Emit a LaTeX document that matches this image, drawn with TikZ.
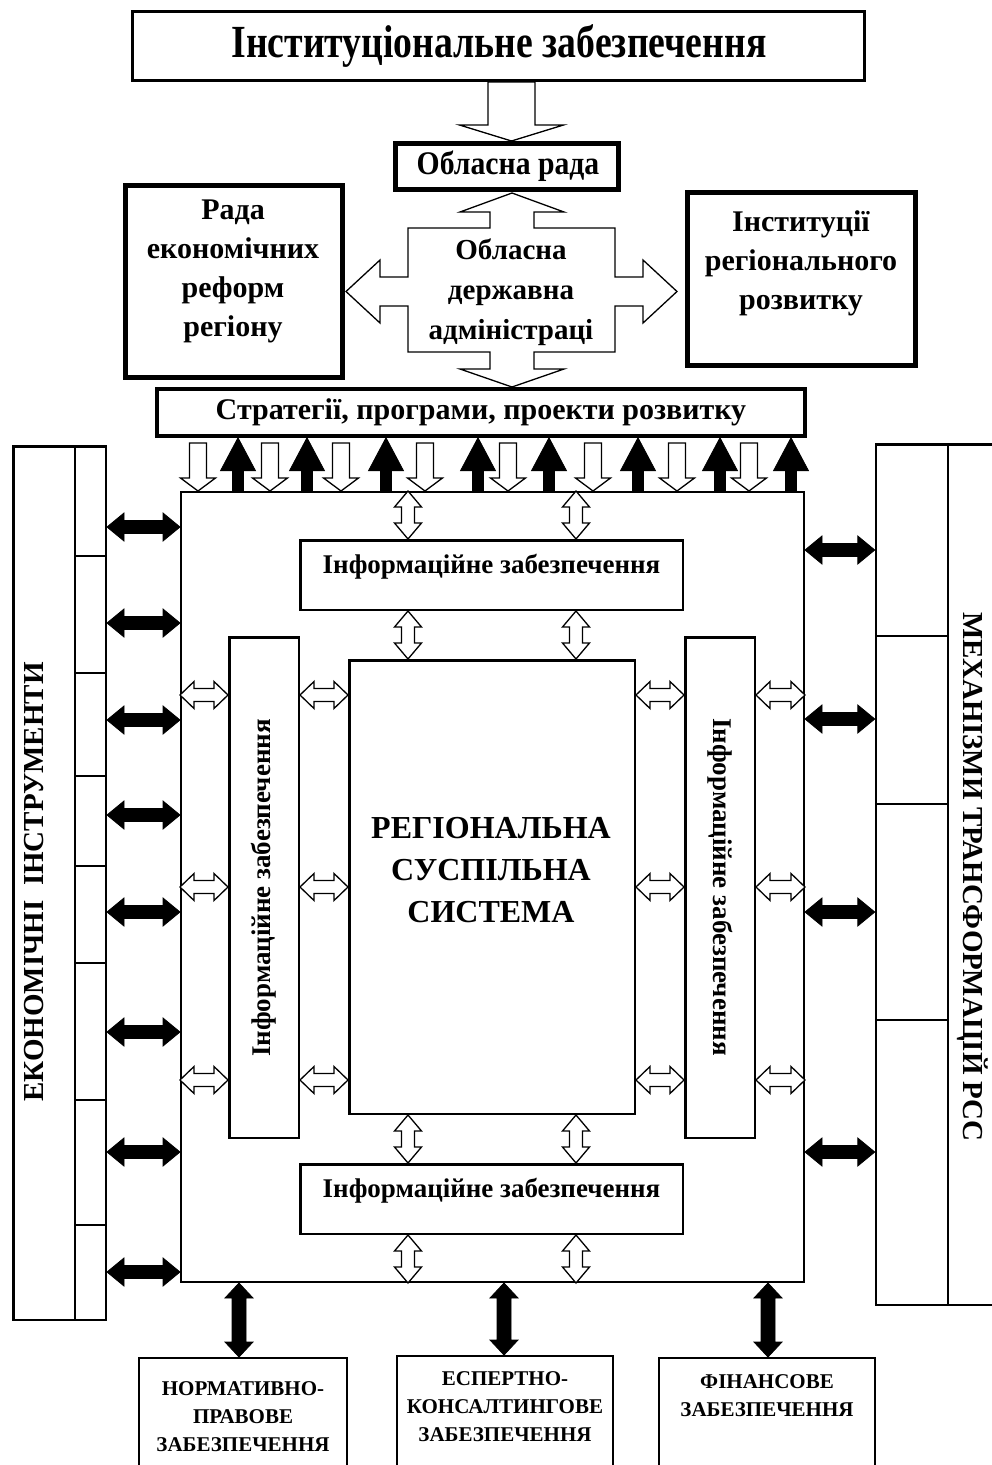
\documentclass[tikz,border=0pt]{standalone}
\usepackage{fontspec}
\setmainfont{Liberation Serif}
\newfontfamily\narrowserif[FakeStretch=0.82]{Liberation Serif}
\newfontfamily\semiserif[FakeStretch=0.9]{Liberation Serif}
\usetikzlibrary{calc}

\newcommand\bfsz[2]{\fontsize{#1}{#2}\selectfont\bfseries}

% single block arrow: #1 style, #2 head length, #3 head half width,
% #4 shaft half width, #5 tail point, #6 tip point (vertical)
\newcommand\vsingle[6]{%
  \path[#1] let \p1=#5, \p2=#6, \n1={sign(\y2-\y1)} in
    ({\x1-#4},\y1) -- ({\x1-#4},{\y2-(\n1)*#2}) -- ({\x1-#3},{\y2-(\n1)*#2})
    -- (\x1,\y2) -- ({\x1+#3},{\y2-(\n1)*#2}) -- ({\x1+#4},{\y2-(\n1)*#2})
    -- ({\x1+#4},\y1) -- cycle;}

% double block arrow, vertical
\newcommand\vdouble[6]{%
  \path[#1] let \p1=#5, \p2=#6, \n1={sign(\y2-\y1)} in
    (\x1,\y1) -- ({\x1+#3},{\y1+(\n1)*#2}) -- ({\x1+#4},{\y1+(\n1)*#2})
    -- ({\x1+#4},{\y2-(\n1)*#2}) -- ({\x1+#3},{\y2-(\n1)*#2}) -- (\x1,\y2)
    -- ({\x1-#3},{\y2-(\n1)*#2}) -- ({\x1-#4},{\y2-(\n1)*#2})
    -- ({\x1-#4},{\y1+(\n1)*#2}) -- ({\x1-#3},{\y1+(\n1)*#2}) -- cycle;}

% double block arrow, horizontal
\newcommand\hdouble[6]{%
  \path[#1] let \p1=#5, \p2=#6, \n1={sign(\x2-\x1)} in
    (\x1,\y1) -- ({\x1+(\n1)*#2},{\y1+#3}) -- ({\x1+(\n1)*#2},{\y1+#4})
    -- ({\x2-(\n1)*#2},{\y1+#4}) -- ({\x2-(\n1)*#2},{\y1+#3}) -- (\x2,\y1)
    -- ({\x2-(\n1)*#2},{\y1-#3}) -- ({\x2-(\n1)*#2},{\y1-#4})
    -- ({\x1+(\n1)*#2},{\y1-#4}) -- ({\x1+(\n1)*#2},{\y1-#3}) -- cycle;}

\begin{document}
\begin{tikzpicture}[x=1pt,y=-1pt,
  boxln/.style={draw=black, line width=2.5pt, inner sep=0pt},
  thinbox/.style={draw=black, line width=2pt, inner sep=0pt},
  heavybox/.style={draw=black, line width=5pt, inner sep=0pt},
  colln/.style={draw=black, line width=2.5pt},
  openarr/.style={draw=black, fill=white, line width=1.3pt, line join=miter},
  blackarr/.style={draw=black, fill=black, line width=0.8pt, line join=miter},
  lbl/.style={inner sep=0pt, align=center}
]
\fill[white] (0,0) rectangle (992,1465);
\useasboundingbox (0,0) rectangle (992,1465);

% ---------- upper block ----------
\node[draw=black, line width=3pt, inner sep=0pt, minimum width=732pt, minimum height=69pt]
  (top) at (498.5,46) {};
\node[lbl, font=\narrowserif\bfsz{46}{50}] (toptext) at (499,46) {Інституціональне забезпечення};

\node[heavybox, minimum width=223pt, minimum height=46pt] (rada) at (507,166.5) {};
\node[lbl, font=\semiserif\bfsz{33}{36}] (radatext) at (508,166) {Обласна рада};

\vsingle{openarr}{16pt}{52pt}{23.5pt}{(top.south -| 511.5,0)}{(rada.north -| 511.5,0)}

\node[heavybox, minimum width=217pt, minimum height=192pt] (reform) at (234,281.5) {};
\node[lbl, font=\bfsz{30}{39}] (reformtext) at (233,271) {Рада\\економічних\\реформ\\регіону};

\node[heavybox, minimum width=228pt, minimum height=173pt] (instit) at (801.5,279) {};
\node[lbl, font=\bfsz{30}{39}] (instittext) at (801,263) {Інституції\\регіонального\\розвитку};

% four-way arrow of the regional administration
\draw[openarr] (512,193) -- (564,212) -- (534,212) -- (534,228) -- (615,228) -- (615,277)
  -- (643,277) -- (643,260) -- (677,291.5) -- (643,323) -- (643,306) -- (615,306)
  -- (615,352) -- (534,352) -- (534,369) -- (564,369) -- (512,387) -- (460,369)
  -- (490,369) -- (490,352) -- (408,352) -- (408,306) -- (380,306) -- (380,323)
  -- (346,291.5) -- (380,260) -- (380,277) -- (408,277) -- (408,228) -- (490,228)
  -- (490,212) -- (460,212) -- cycle;
\node[lbl, font=\bfsz{29}{40}] (oda) at (511,292) {Обласна\\державна\\адміністраці};

\node[draw=black, line width=3.5pt, inner sep=0pt, minimum width=648pt, minimum height=47pt]
  (strat) at (481,412.5) {};
\node[lbl, font=\bfsz{30}{36}] (strattext) at (481,412) {Стратегії, програми, проекти розвитку};

% ---------- main frame ----------
\node[thinbox, minimum width=623pt, minimum height=790pt] (big) at (492.5,887) {};

\foreach \xa in {198,270,341,425,508,593,677,749}
  \vsingle{openarr}{13pt}{17.5pt}{8.5pt}{(\xa,443)}{(big.north -| \xa,0)};
\foreach \xb in {238,307,386,478,549,638,720,791}
  \vsingle{blackarr}{33pt}{17.5pt}{5.5pt}{(big.north -| \xb,0)}{(strat.south -| \xb,0)};

% inner blocks
\node[boxln, minimum width=382.5pt, minimum height=69.5pt] (infot) at (491.5,575) {};
\node[lbl, font=\bfsz{27}{32}] (infottext) at (491.5,567) {Інформаційне забезпечення};
\node[boxln, minimum width=382.5pt, minimum height=69.5pt] (infob) at (491.5,1199) {};
\node[lbl, font=\bfsz{27}{32}] (infobtext) at (491.5,1191) {Інформаційне забезпечення};
\node[boxln, minimum width=69.5pt, minimum height=500.5pt] (infol) at (264,887.5) {};
\node[lbl, rotate=90, font=\bfsz{27}{32}] (infoltext) at (264,888) {Інформаційне забезпечення};
\node[boxln, minimum width=69.5pt, minimum height=500.5pt] (infor) at (720,887.5) {};
\node[lbl, rotate=-90, font=\bfsz{27}{32}] (infortext) at (720,887) {Інформаційне забезпечення};
\node[boxln, minimum width=285.5pt, minimum height=453.5pt] (core) at (492,887) {};
\node[lbl, font=\bfsz{32}{42}] (coretext) at (491,870) {РЕГІОНАЛЬНА\\СУСПІЛЬНА\\СИСТЕМА};

\foreach \xc in {408,576}{
  \vdouble{openarr}{16pt}{13.5pt}{6.5pt}{(big.north -| \xc,0)}{(infot.north -| \xc,0)}
  \vdouble{openarr}{16pt}{13.5pt}{6.5pt}{(infot.south -| \xc,0)}{(core.north -| \xc,0)}
  \vdouble{openarr}{16pt}{13.5pt}{6.5pt}{(core.south -| \xc,0)}{(infob.north -| \xc,0)}
  \vdouble{openarr}{16pt}{13.5pt}{6.5pt}{(infob.south -| \xc,0)}{(big.south -| \xc,0)}
}
\foreach \yc in {695,887,1080}{
  \hdouble{openarr}{14pt}{13.5pt}{6.5pt}{(big.west |- 0,\yc)}{(infol.west |- 0,\yc)}
  \hdouble{openarr}{14pt}{13.5pt}{6.5pt}{(infol.east |- 0,\yc)}{(core.west |- 0,\yc)}
  \hdouble{openarr}{14pt}{13.5pt}{6.5pt}{(core.east |- 0,\yc)}{(infor.west |- 0,\yc)}
  \hdouble{openarr}{14pt}{13.5pt}{6.5pt}{(infor.east |- 0,\yc)}{(big.east |- 0,\yc)}
}

% ---------- left column ----------
\node[boxln, minimum width=92.5pt, minimum height=873.5pt] (lcol) at (59.5,883) {};
\draw[colln] (lcol.north -| 75,0) -- (lcol.south -| 75,0);
\foreach \yd in {556,673,776,866,963,1100,1225}
  \draw[colln] (75,\yd) -- (lcol.east |- 0,\yd);
\node[lbl, rotate=90, font=\bfsz{29}{34}] (lcoltext) at (34.5,882) {ЕКОНОМІЧНІ~~ІНСТРУМЕНТИ};
\foreach \ye in {527,623,720,815,912,1032,1152,1272}
  \hdouble{blackarr}{17pt}{14pt}{6.5pt}{(lcol.east |- 0,\ye)}{(big.west |- 0,\ye)};

% ---------- right column ----------
\node[boxln, minimum width=134pt, minimum height=860.5pt] (rcol) at (943,874.5) {};
\draw[colln] (rcol.north -| 948,0) -- (rcol.south -| 948,0);
\foreach \yf in {636,804,1020}
  \draw[colln] (rcol.west |- 0,\yf) -- (948,\yf);
\node[lbl, rotate=-90, font=\bfsz{29}{34}] (rcoltext) at (973,877) {МЕХАНІЗМИ ТРАНСФОРМАЦІЙ РСС};
\foreach \yg in {550,719,912,1152}
  \hdouble{blackarr}{17pt}{14pt}{6.5pt}{(big.east |- 0,\yg)}{(rcol.west |- 0,\yg)};

% ---------- lower boxes ----------
\node[thinbox, minimum width=208pt, minimum height=121pt] (norm) at (243,1418.5) {};
\node[lbl, font=\bfsz{21}{28}] (normtext) at (243,1417) {НОРМАТИВНО-\\ПРАВОВЕ\\ЗАБЕЗПЕЧЕННЯ};
\node[thinbox, minimum width=216pt, minimum height=123pt] (expert) at (505,1417.5) {};
\node[lbl, font=\bfsz{21}{28}] (experttext) at (505,1407) {ЕСПЕРТНО-\\КОНСАЛТИНГОВЕ\\ЗАБЕЗПЕЧЕННЯ};
\node[thinbox, minimum width=216pt, minimum height=121pt] (fin) at (767,1418.5) {};
\node[lbl, font=\bfsz{21}{28}] (fintext) at (767,1396) {ФІНАНСОВЕ\\ЗАБЕЗПЕЧЕННЯ};

\vdouble{blackarr}{15pt}{14pt}{7pt}{(big.south -| 239,0)}{(norm.north -| 239,0)}
\vdouble{blackarr}{15pt}{14pt}{7pt}{(big.south -| 504,0)}{(expert.north -| 504,0)}
\vdouble{blackarr}{15pt}{14pt}{7pt}{(big.south -| 768,0)}{(fin.north -| 768,0)}
\end{tikzpicture}
\end{document}
